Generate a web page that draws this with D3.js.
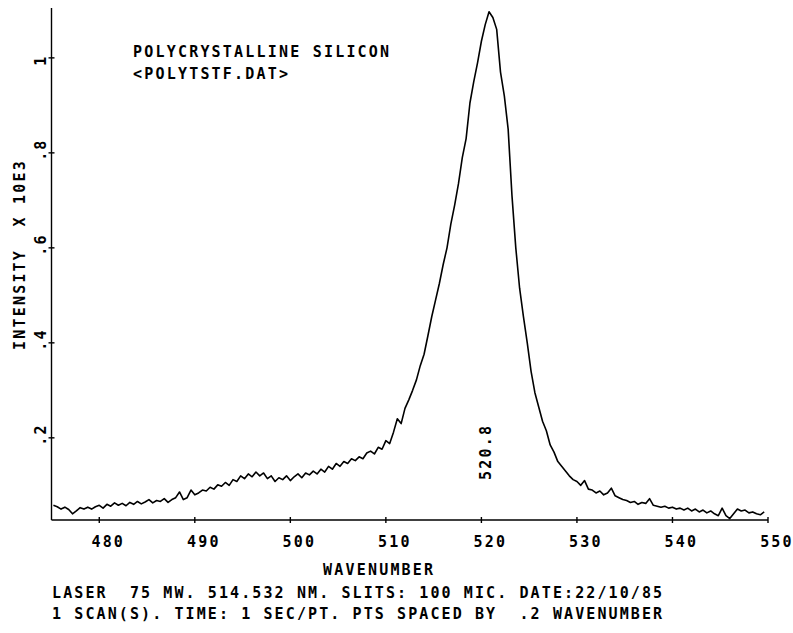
<!DOCTYPE html>
<html>
<head>
<meta charset="utf-8">
<script src="https://cdn.jsdelivr.net/npm/d3@7"></script>
<style>
  html, body { margin: 0; padding: 0; background: #fff; }
  svg text { font-family: "DejaVu Sans Mono", "Liberation Mono", monospace; font-size: 15px; font-weight: bold; letter-spacing: 2.2px; fill: #000; white-space: pre; }
</style>
</head>
<body>
<svg id="chart" width="793" height="633"></svg>
<script>
// Raman spectrum of polycrystalline silicon, intensity (x 10E3) sampled every 0.4 wavenumber
const startWavenumber = 475.2;
const wavenumberStep = 0.4;
const intensity = [
  0.058,0.055,0.050,0.054,0.049,  0.040,0.046,0.053,0.050,0.054,
  0.050,0.055,0.058,0.052,0.060,  0.056,0.063,0.058,0.062,0.057,
  0.064,0.060,0.066,0.061,0.065,  0.070,0.063,0.068,0.066,0.072,
  0.064,0.070,0.074,0.086,0.070,  0.074,0.090,0.080,0.084,0.090,
  0.088,0.096,0.092,0.101,0.098,  0.106,0.100,0.112,0.108,0.120,
  0.114,0.124,0.118,0.128,0.120,  0.126,0.114,0.120,0.108,0.116,
  0.112,0.120,0.110,0.118,0.124,  0.116,0.126,0.122,0.130,0.124,
  0.134,0.128,0.140,0.134,0.146,  0.140,0.150,0.146,0.156,0.152,
  0.160,0.156,0.168,0.172,0.166,  0.180,0.176,0.194,0.188,0.212,
  0.240,0.230,0.262,0.280,0.300,  0.322,0.352,0.376,0.415,0.455,
  0.490,0.525,0.565,0.600,0.650,  0.690,0.735,0.790,0.830,0.905,
  0.950,0.990,1.035,1.070,1.097,  1.085,1.060,0.970,0.920,0.850,
  0.710,0.600,0.515,0.455,0.400,  0.340,0.295,0.265,0.235,0.215,
  0.185,0.170,0.150,0.140,0.130,  0.120,0.112,0.108,0.100,0.110,
  0.092,0.090,0.084,0.088,0.080,  0.084,0.094,0.078,0.074,0.070,
  0.068,0.064,0.066,0.060,0.064,  0.062,0.072,0.058,0.056,0.054,
  0.056,0.052,0.054,0.050,0.052,  0.048,0.052,0.046,0.050,0.044,
  0.048,0.042,0.046,0.040,0.036,  0.052,0.036,0.030,0.040,0.050,
  0.046,0.048,0.042,0.044,0.040,  0.038,0.044
];
const xTicks = [480, 490, 500, 510, 520, 530, 540, 550];
const yTicks = [0.2, 0.4, 0.6, 0.8, 1.0];
const yTickLabels = [".2", ".4", ".6", ".8", "1"];
const titleLines = ["POLYCRYSTALLINE SILICON", "<POLYTSTF.DAT>"];
const xTitle = "WAVENUMBER";
const yTitle = "INTENSITY  X 10E3";
const footerLines = [
  "LASER  75 MW. 514.532 NM. SLITS: 100 MIC. DATE:22/10/85",
  "1 SCAN(S). TIME: 1 SEC/PT. PTS SPACED BY  .2 WAVENUMBER"
];

const points = intensity.map((v, i) => ({ w: startWavenumber + i * wavenumberStep, v }));

const svg = d3.select("#chart");
const x = d3.scaleLinear().domain([475, 550]).range([51.5, 768]);
const y = d3.scaleLinear().domain([0.027, 1.105]).range([520, 8]);

// Axes drawn as plotter lines with small cross ticks
const axisG = svg.append("g").attr("stroke", "#000").attr("stroke-width", 1.4).attr("fill", "none");
axisG.append("line").attr("x1", x(475)).attr("x2", x(550)).attr("y1", y(0.027)).attr("y2", y(0.027));
axisG.append("line").attr("x1", x(475)).attr("x2", x(475)).attr("y1", y(0.027)).attr("y2", y(1.105));
axisG.selectAll(".xt").data(xTicks).join("line")
  .attr("x1", d => x(d)).attr("x2", d => x(d))
  .attr("y1", y(0.027) - 3).attr("y2", y(0.027) + 3);
axisG.selectAll(".yt").data(yTicks).join("line")
  .attr("x1", x(475) - 3).attr("x2", x(475) + 3)
  .attr("y1", d => y(d)).attr("y2", d => y(d));

// X tick labels
svg.append("g").selectAll("text").data(xTicks).join("text")
  .attr("x", d => x(d) + 9).attr("y", 547)
  .attr("text-anchor", "middle")
  .text(d => d);

// Y tick labels, rotated
svg.append("g").selectAll("text").data(yTicks).join("text")
  .attr("transform", d => `translate(46,${y(d) + 8}) rotate(-90)`)
  .attr("text-anchor", "start")
  .text((d, i) => yTickLabels[i]);

// Spectrum trace
const line = d3.line().x(d => x(d.w)).y(d => y(d.v));
svg.append("path").datum(points)
  .attr("d", line)
  .attr("fill", "none").attr("stroke", "#000")
  .attr("stroke-width", 1.6).attr("stroke-linejoin", "round");

// Peak position annotation
const peak = points.reduce((a, b) => (b.v > a.v ? b : a));
svg.append("text")
  .attr("transform", `translate(${x(peak.w) + 2},480) rotate(-90)`)
  .attr("text-anchor", "start")
  .text(peak.w.toFixed(1));

// Titles
svg.append("g").selectAll("text").data(titleLines).join("text")
  .attr("x", 133).attr("y", (d, i) => 57 + i * 22)
  .text(d => d);

svg.append("text").attr("x", 323).attr("y", 575).text(xTitle);

svg.append("text")
  .attr("transform", "translate(25,350) rotate(-90)")
  .attr("text-anchor", "start")
  .text(yTitle);

svg.append("g").selectAll("text").data(footerLines).join("text")
  .attr("x", 52).attr("y", (d, i) => 598 + i * 21)
  .style("letter-spacing", "2.1px")
  .text(d => d);
</script>
</body>
</html>
